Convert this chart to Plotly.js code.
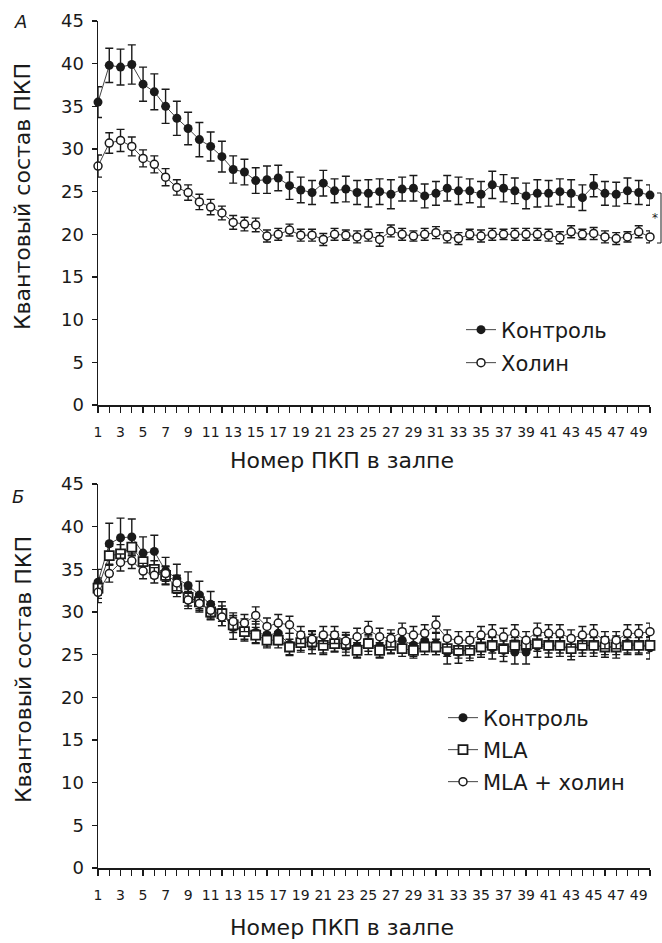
<!DOCTYPE html>
<html>
<head>
<meta charset="utf-8">
<script src="https://cdn.plot.ly/plotly-3.0.1.min.js"></script>
<style>html,body{margin:0;padding:0;background:#fff;}#chart{width:662px;height:943px;}</style>
</head>
<body>
<div id="chart"></div>
<script>
// ---- data ----
const pulseNumbers = Array.from({length: 50}, (_, i) => i + 1);
const tickLabels = pulseNumbers.map(n => (n % 2 === 1 ? String(n) : ''));

// Panel A
const controlA = [35.5,39.8,39.6,39.9,37.6,36.7,35.0,33.6,32.4,31.1,30.3,29.1,27.6,27.3,26.3,26.4,26.6,25.7,25.2,24.9,
  26.0,25.1,25.3,24.9,24.8,25.0,24.7,25.3,25.4,24.5,24.8,25.4,25.1,25.1,24.7,25.8,25.4,25.1,24.5,24.8,
  24.8,25.0,24.8,24.3,25.7,24.8,24.7,25.1,24.9,24.6];
const controlAErr = [1.8,2.0,2.1,2.3,2.0,2.1,2.0,2.0,1.9,2.0,1.7,1.8,1.6,1.5,1.5,1.6,1.5,1.6,1.5,1.4,
  1.5,1.4,1.5,1.4,1.6,1.5,1.7,1.4,1.5,1.4,1.4,1.5,1.6,1.4,1.5,1.6,1.6,1.5,1.5,1.6,
  1.5,1.5,1.6,1.5,1.3,1.4,1.4,1.5,1.4,1.2];
const cholineA = [28.0,30.7,31.0,30.3,28.9,28.2,26.7,25.5,24.9,23.8,23.2,22.5,21.4,21.2,21.1,19.8,20.0,20.5,19.9,19.9,
  19.4,20.0,19.9,19.7,19.9,19.4,20.4,20.0,19.8,20.0,20.2,19.7,19.5,20.0,19.8,20.0,20.0,20.0,20.0,20.0,
  19.9,19.6,20.3,20.0,20.1,19.7,19.5,19.7,20.3,19.7];
const cholineAErr = [1.3,1.2,1.3,1.1,1.0,1.0,1.0,0.9,0.9,0.9,0.9,0.8,0.8,0.8,0.8,0.7,0.7,0.7,0.7,0.7,
  0.7,0.7,0.6,0.7,0.7,0.8,0.7,0.7,0.6,0.7,0.7,0.7,0.7,0.6,0.7,0.7,0.6,0.7,0.7,0.7,
  0.7,0.7,0.7,0.6,0.7,0.7,0.7,0.6,0.7,0.7];

// Panel B
const controlB = [33.5,38.0,38.7,38.8,36.9,37.1,34.8,33.9,33.1,32.0,30.9,29.8,28.2,27.9,27.6,27.3,27.5,26.2,26.5,26.4,
  26.3,26.5,26.1,26.0,26.2,26.0,26.3,26.7,26.1,26.6,26.3,25.3,25.3,25.6,25.9,25.8,25.5,25.3,25.3,26.0,
  26.0,26.0,25.7,26.0,26.1,25.9,25.9,26.3,26.2,25.8];
const controlBErr = [1.5,2.4,2.3,2.1,1.9,1.9,1.6,1.7,1.6,1.6,1.5,1.4,1.4,1.3,1.3,1.3,1.3,1.3,1.2,1.3,
  1.3,1.2,1.2,1.3,1.2,1.3,1.2,1.3,1.3,1.2,1.3,1.4,1.3,1.3,1.2,1.3,1.3,1.4,1.4,1.3,
  1.3,1.2,1.3,1.2,1.3,1.2,1.3,1.3,1.2,1.3];
const mlaB = [32.8,36.6,36.8,37.6,35.9,35.0,34.3,32.8,31.7,31.2,30.0,29.8,28.5,27.7,27.3,26.7,26.7,25.9,26.4,26.5,
  26.1,26.3,26.3,25.5,26.3,25.5,26.1,25.7,25.5,25.9,25.9,25.7,25.5,25.5,25.9,26.1,25.7,26.1,26.1,26.3,
  26.1,26.1,25.7,26.1,26.1,25.9,25.9,26.1,26.1,26.1];
const mlaBErr = [1.2,1.1,1.1,1.0,1.0,1.0,1.0,1.0,1.0,1.0,0.9,0.9,0.9,0.9,0.9,0.9,0.9,0.9,0.9,0.9,
  0.9,0.9,1.0,0.9,0.9,0.9,0.9,0.9,0.9,0.9,0.9,0.9,0.9,0.9,0.9,0.9,0.9,0.9,0.9,0.9,
  0.9,0.9,0.9,0.9,0.9,0.9,0.9,0.9,0.9,0.9];
const cholineB = [32.3,34.5,35.8,36.0,34.8,34.3,34.5,33.4,31.4,31.0,30.2,29.4,28.9,28.7,29.6,28.3,28.7,28.5,27.3,26.8,
  27.3,27.3,26.6,27.1,27.9,27.1,26.9,27.7,27.3,27.5,28.5,26.9,26.7,26.7,27.3,27.5,27.1,27.5,26.7,27.7,
  27.5,27.5,26.9,27.3,27.5,26.7,26.7,27.5,27.5,27.7];
const cholineBErr = [1.2,1.0,1.0,0.9,0.9,0.9,0.9,0.9,1.0,1.0,1.0,1.0,1.0,1.0,1.0,1.0,1.0,1.0,1.0,1.0,
  1.0,1.0,1.0,1.0,1.0,1.0,1.0,1.0,1.0,1.0,1.0,1.0,1.0,1.0,1.0,1.0,1.0,1.0,1.0,1.0,
  1.0,1.0,1.0,1.0,1.0,1.0,1.0,1.0,1.0,1.0];

const seriesNames = {control: 'Контроль', choline: 'Холин', mla: 'MLA', mlaCholine: 'MLA + холин'};
const axisTitleX = 'Номер ПКП в залпе';
const axisTitleY = 'Квантовый состав ПКП';

// ---- styles ----
const INK = '#1a1a1a';
const FONT = 'DejaVu Sans, sans-serif';
function errBar(arr) {
  return {type: 'data', array: arr, visible: true, color: INK, thickness: 1.4, width: 4};
}
function trace(y, err, name, xa, ya, legend, marker) {
  return {
    type: 'scatter', mode: 'lines+markers', x: pulseNumbers, y: y, name: name,
    xaxis: xa, yaxis: ya, legend: legend, cliponaxis: false,
    line: {color: '#444', width: 1},
    marker: marker, error_y: errBar(err)
  };
}
const filled = {symbol: 'circle', size: 9, color: INK, line: {width: 0}};
const openC = {symbol: 'circle', size: 8, color: '#fff', line: {color: INK, width: 1.5}};
const openS = {symbol: 'square', size: 9, color: '#fff', line: {color: INK, width: 1.8}};

const data = [
  trace(controlA, controlAErr, seriesNames.control, 'x', 'y', 'legend', filled),
  trace(cholineA, cholineAErr, seriesNames.choline, 'x', 'y', 'legend2', openC),
  trace(controlB, controlBErr, seriesNames.control, 'x2', 'y2', 'legend3', filled),
  trace(mlaB, mlaBErr, seriesNames.mla, 'x2', 'y2', 'legend4', openS),
  trace(cholineB, cholineBErr, seriesNames.mlaCholine, 'x2', 'y2', 'legend5', openC)
];

function xAxis(anchor) {
  return {
    anchor: anchor, range: [1, 50], tickmode: 'array', tickvals: pulseNumbers, ticktext: tickLabels,
    ticks: 'outside', ticklen: 6, tickwidth: 1.2, tickcolor: INK, showline: true, linecolor: INK, linewidth: 1.5,
    showgrid: false, zeroline: false, tickangle: 0, ticklabelstandoff: 8,
    tickfont: {family: FONT, size: 14, color: INK}, fixedrange: true
  };
}
function yAxis(domain, anchor) {
  return {
    anchor: anchor, domain: domain, range: [0, 45], tickvals: [0,5,10,15,20,25,30,35,40,45],
    ticks: 'outside', ticklen: 5, tickwidth: 1.2, tickcolor: INK, showline: true, linecolor: INK, linewidth: 1.5,
    showgrid: false, zeroline: false, ticklabelstandoff: 4,
    tickfont: {family: FONT, size: 18, color: INK}, fixedrange: true
  };
}
function legendAt(x, y) {
  return {x: x, y: y, xanchor: 'left', yanchor: 'middle', bgcolor: 'rgba(0,0,0,0)', borderwidth: 0,
    font: {family: FONT, size: 21, color: INK}, itemclick: false, itemdoubleclick: false};
}
function ann(text, x, y, opts) {
  return Object.assign({text: text, x: x, y: y, xref: 'paper', yref: 'paper', showarrow: false,
    xanchor: 'center', yanchor: 'middle', font: {family: FONT, size: 22, color: INK}}, opts || {});
}

const W = 662, H = 943, L = 98, R = 12, T = 21, B = 75;
const pw = W - L - R, ph = H - T - B;
const px = v => (v - L) / pw;
const py = v => (H - B - v) / ph;

const layout = {
  width: W, height: H, margin: {l: L, r: R, t: T, b: B}, paper_bgcolor: '#fff', plot_bgcolor: '#fff',
  xaxis: xAxis('y'), yaxis: yAxis([py(405), 1], 'x'),
  xaxis2: xAxis('y2'), yaxis2: yAxis([0, py(484)], 'x2'),
  legend: legendAt(px(461), py(330)),
  legend2: legendAt(px(461), py(363)),
  legend3: legendAt(px(443), py(718)),
  legend4: legendAt(px(443), py(750)),
  legend5: legendAt(px(443), py(782)),
  annotations: [
    ann('<i>А</i>', px(20), py(22), {font: {family: FONT, size: 18, color: INK}}),
    ann('<i>Б</i>', px(18), py(496), {font: {family: FONT, size: 18, color: INK}}),
    ann(axisTitleY, px(23), py(197), {textangle: -90}),
    ann(axisTitleY, px(23), py(670), {textangle: -90}),
    ann(axisTitleX, px(342), py(460)),
    ann(axisTitleX, px(342), py(928)),
    ann('*', px(655), py(218), {font: {family: FONT, size: 12, color: INK}})
  ],
  shapes: [
    {type: 'line', xref: 'paper', yref: 'paper', x0: px(661), x1: px(661), y0: py(193), y1: py(243), line: {color: INK, width: 1}},
    {type: 'line', xref: 'paper', yref: 'paper', x0: px(657), x1: px(661), y0: py(193), y1: py(193), line: {color: INK, width: 1}},
    {type: 'line', xref: 'paper', yref: 'paper', x0: px(657), x1: px(661), y0: py(243), y1: py(243), line: {color: INK, width: 1}}
  ],
  showlegend: true
};

Plotly.newPlot('chart', data, layout, {staticPlot: true, displayModeBar: false});
</script>
</body>
</html>
